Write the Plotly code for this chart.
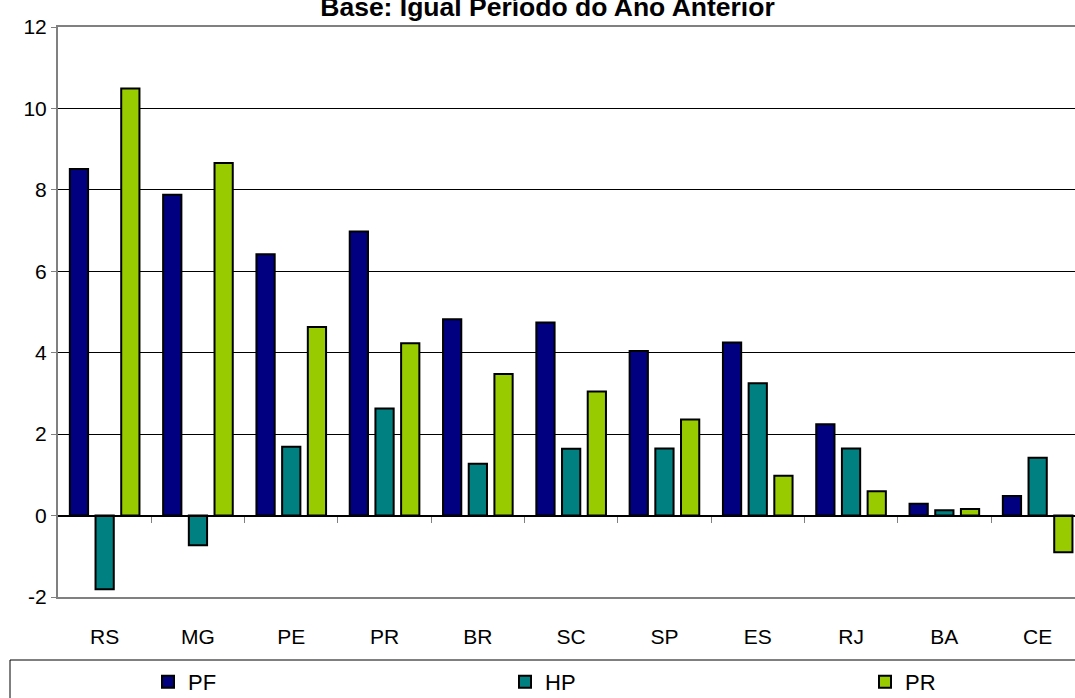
import plotly.graph_objects as go

categories = ["RS", "MG", "PE", "PR", "BR", "SC", "SP", "ES", "RJ", "BA", "CE"]
pf = [8.51, 7.88, 6.42, 6.98, 4.82, 4.74, 4.04, 4.25, 2.24, 0.29, 0.48]
hp = [-1.81, -0.73, 1.69, 2.63, 1.27, 1.64, 1.65, 3.25, 1.65, 0.13, 1.42]
pr = [10.49, 8.66, 4.63, 4.23, 3.48, 3.05, 2.36, 0.98, 0.60, 0.16, -0.90]
series_names = ["PF", "HP", "PR"]
series_values = [pf, hp, pr]
colors = ["#000080", "#008080", "#99CC00"]
title_text = "Base: Igual Período do Ano Anterior"
y_ticks = [-2, 0, 2, 4, 6, 8, 10, 12]

FONT = "Liberation Sans, Arial, sans-serif"
W, H = 1075, 698
ML, MR, MT, MB = 58, 0, 27, 101
plot_w = W - ML - MR
plot_h = H - MT - MB
cat_w = 93.3
x_range = [-0.5, -0.5 + plot_w / cat_w]

fig = go.Figure()
legend_ids = ["legend", "legend2", "legend3"]
for name, vals, col, lg in zip(series_names, series_values, colors, legend_ids):
    fig.add_trace(go.Bar(
        x=categories, y=vals, name=name, legend=lg,
        marker=dict(color=col, line=dict(color="black", width=2)),
    ))

# helper trace so the zero-line axis exists
fig.add_trace(go.Scatter(x=[None], y=[None], xaxis="x2", yaxis="y",
                         showlegend=False, hoverinfo="skip"))

boundaries = [i + 0.5 for i in range(len(categories) - 1)]

legend_px = [148, 505, 865]
legend_common = dict(orientation="h", xanchor="left", yanchor="middle",
                     y=-(682 - (H - MB)) / plot_h,
                     font=dict(family=FONT, size=22, color="black"),
                     bgcolor="rgba(0,0,0,0)", borderwidth=0, itemwidth=30)

fig.update_layout(
    width=W, height=H, autosize=False,
    margin=dict(l=ML, r=MR, t=MT, b=MB, pad=0, autoexpand=False),
    paper_bgcolor="white", plot_bgcolor="white",
    barmode="group", bargap=0.174, bargroupgap=0.29,
    font=dict(family=FONT, size=21, color="black"),
    title=dict(text=title_text, x=547.5 / W, xref="container", xanchor="center",
               y=1 - 7.0 / H, yref="container", yanchor="middle",
               font=dict(family=FONT, size=26.5, color="black", weight="bold")),
    xaxis=dict(type="category", range=x_range, showgrid=False, ticks="",
               showline=True, linecolor="#808080", linewidth=2, mirror=True,
               tickfont=dict(family=FONT, size=21, color="black"),
               ticklabelstandoff=20, zeroline=False),
    xaxis2=dict(overlaying="x", anchor="free", position=(0 - (-2)) / 14,
                type="linear", range=x_range, tickmode="array",
                tickvals=boundaries, showticklabels=False, ticks="outside",
                ticklen=6, tickwidth=1, tickcolor="#808080",
                showline=True, linecolor="black", linewidth=1,
                showgrid=False, zeroline=False),
    yaxis=dict(range=[-2, 12], tickmode="array", tickvals=y_ticks,
               ticktext=[str(v) for v in y_ticks],
               showgrid=True, gridcolor="black", gridwidth=1,
               showline=True, linecolor="#808080", linewidth=2,
               ticks="outside", ticklen=5, tickcolor="#808080", tickwidth=1,
               tickfont=dict(family=FONT, size=21, color="black"),
               zeroline=False),
    legend=dict(x=(legend_px[0] - ML) / plot_w, **legend_common),
    legend2=dict(x=(legend_px[1] - ML) / plot_w, **legend_common),
    legend3=dict(x=(legend_px[2] - ML) / plot_w, **legend_common),
    shapes=[dict(type="rect", xref="paper", yref="paper",
                 x0=(10 - ML) / plot_w, x1=1.2,
                 y0=-0.4, y1=-(660 - (H - MB)) / plot_h,
                 line=dict(color="black", width=1), fillcolor="rgba(0,0,0,0)",
                 layer="above")],
    showlegend=True,
)

fig.write_html("out.html",
               config={"displayModeBar": False},
               post_script="document.body.style.margin='0';"
                           "document.body.style.overflow='hidden';")
